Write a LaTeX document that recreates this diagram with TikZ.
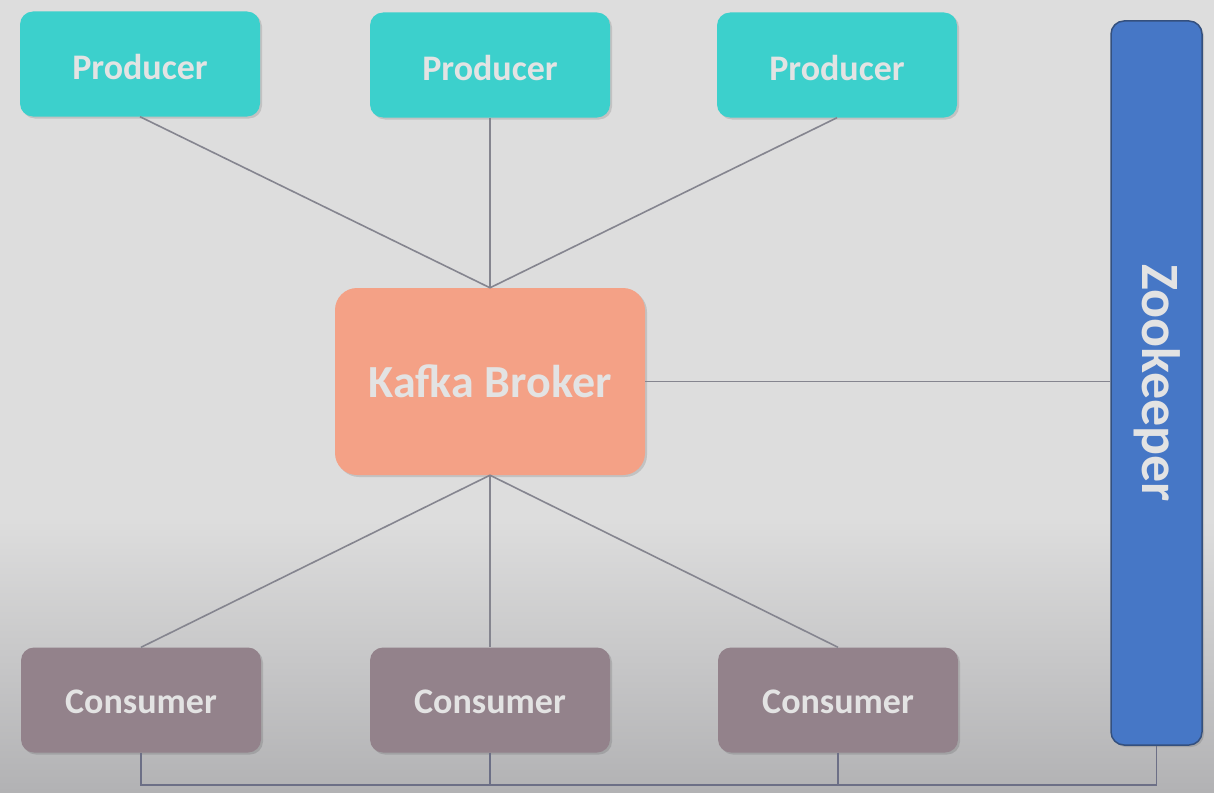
\documentclass[tikz,border=0pt]{standalone}
\usepackage{fontspec}
\setmainfont{Carlito}
\usetikzlibrary{shadows}
\definecolor{bgtop}{HTML}{DDDDDD}
\definecolor{bgbot}{HTML}{B2B2B4}
\definecolor{prodfill}{HTML}{3CD0CC}
\definecolor{kafkafill}{HTML}{F4A186}
\definecolor{consfill}{HTML}{93828B}
\definecolor{zkfill}{HTML}{4677C6}
\definecolor{zkborder}{HTML}{34507E}
\definecolor{labeltext}{HTML}{E3E3E3}
\definecolor{wire}{HTML}{85858F}
\definecolor{buswire}{HTML}{6C6F86}
\tikzset{
  box/.style={rounded corners=13pt, inner sep=0pt, text=labeltext, font=\bfseries\fontsize{36}{40}\selectfont,
    drop shadow={shadow xshift=2pt, shadow yshift=-2pt, fill=black, opacity=0.12}},
  prodbox/.style={box, fill=prodfill, minimum width=240pt, minimum height=105pt, text height=31pt, text depth=0pt},
  consbox/.style={box, fill=consfill, minimum width=240pt, minimum height=105pt, text height=26pt, text depth=0pt},
  kafkabox/.style={box, fill=kafkafill, rounded corners=22pt, minimum width=310pt, minimum height=187pt,
    font=\bfseries\fontsize{46}{50}\selectfont},
  zkbox/.style={box, fill=zkfill, draw=zkborder, line width=1.5pt, minimum width=91pt, minimum height=724pt},
  link/.style={draw=wire, line width=1.6pt},
  buslink/.style={draw=buswire, line width=1.6pt},
}
\begin{document}
\begin{tikzpicture}[x=1pt,y=-1pt]
\useasboundingbox (0,0) rectangle (1214,792);
\fill[bgtop] (0,0) rectangle (1214,792);
\shade[top color=bgtop, bottom color=bgbot] (0,520) rectangle (1214,792);

\node[prodbox] (p1) at (140,64) {Producer};
\node[prodbox] (p2) at (490,65) {Producer};
\node[prodbox] (p3) at (837,65) {Producer};
\node[kafkabox] (k) at (490,381.5) {Kafka Broker};
\node[consbox] (c1) at (141,700) {Consumer};
\node[consbox] (c2) at (490,700) {Consumer};
\node[consbox] (c3) at (838,700) {Consumer};
\node[zkbox] (zk) at (1156.5,383) {};
\node[text=labeltext, font=\bfseries\fontsize{54}{58}\selectfont, rotate=-90] (zkl) at (1157,383) {Zookeeper};
\coordinate (bus) at (0,785);

\draw[link] (p1.south) -- (k.north);
\draw[link] (p2.south) -- (k.north);
\draw[link] (p3.south) -- (k.north);
\draw[link] (k.south) -- (c1.north);
\draw[link] (k.south) -- (c2.north);
\draw[link] (k.south) -- (c3.north);
\draw[link] (k.east) -- (k.east -| zk.west);
\draw[buslink] (c1.south) -- (c1.south |- bus) -- (zk.south |- bus) -- (zk.south);
\draw[buslink] (c2.south) -- (c2.south |- bus);
\draw[buslink] (c3.south) -- (c3.south |- bus);
\end{tikzpicture}
\end{document}
